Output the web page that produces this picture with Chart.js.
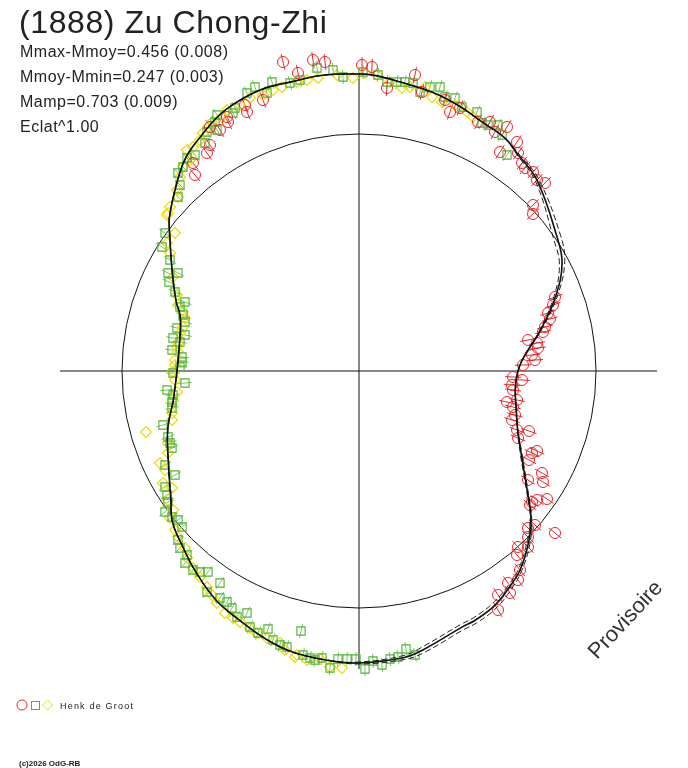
<!DOCTYPE html>
<html>
<head>
<meta charset="utf-8">
<script src="https://cdn.jsdelivr.net/npm/chart.js@4/dist/chart.umd.min.js"></script>
<style>
  html, body { margin: 0; padding: 0; background: #fff; }
  #wrap { width: 688px; height: 768px; position: relative; }
</style>
</head>
<body>
<div id="wrap"><canvas id="chart"></canvas></div>
<script>
// ---------------------------------------------------------------------------
//  Data (polar plot, units = plot radius units, centre at 0,0)
// ---------------------------------------------------------------------------

// fitted curve: angle (deg) and radius
const curveAngle   = [-171, -163, -154, -146, -141, -135, -129, -122, -116, -109, -103, -96, -90, -81, -77, -68, -65, -60, -55, -51, -46, -41, -35, -27, -17, 0, 13, 21, 28, 34, 47, 54, 58, 64, 69, 75, 82, 87, 90, 97, 103, 109, 115, 119, 124, 129, 134, 141, 144, 151, 159, 163, 170, 180];
const curveRadius  = [188, 200, 212, 227, 240, 249, 259, 270, 276, 284, 289, 291, 292, 290, 286, 276, 275, 271, 263, 256, 243, 228, 205, 182, 165, 159, 187, 211, 230, 239, 261, 269, 275, 278, 283, 288, 292, 296, 297, 298, 297, 298, 295, 291, 283, 275, 262, 244, 234, 214, 196, 187, 182, 182];
const curveRadiusHi = [188, 200, 212, 227, 240, 249, 259, 270, 276, 284, 289, 291, 293, 292, 289, 279, 278, 274, 266, 258, 245, 229, 206, 183, 165, 159, 188, 213, 233, 243, 263, 270, 275, 278, 283, 288, 292, 296, 297, 298, 297, 298, 295, 291, 283, 275, 262, 244, 234, 214, 196, 187, 182, 182];
const curveRadiusLo = [188, 200, 212, 227, 240, 249, 259, 270, 276, 284, 289, 291, 291, 288, 283, 273, 272, 268, 261, 254, 241, 227, 204, 181, 165, 159, 186, 209, 227, 235, 259, 268, 275, 278, 283, 288, 292, 296, 297, 298, 297, 298, 295, 291, 283, 275, 262, 244, 234, 214, 196, 187, 182, 182];

const refCircleRadius = 237;

// observations (x, y)
const circleX = [-76, -61, -46, -34, 3, 13, -96, -114, -112, -131, -149, -132, -149, -152, -166, -164, -139,
  28, 56, 63, 86, 91, 101, 119, 131, 148, 136, 158, 141, 159, 163, 166, 174, 178, 186, 174, 174,
  196, 194, 189, 191, 186, 184, 169, 178, 179, 173, 176, 164, 154, 163, 153, 154, 148, 158, 154, 156, 153,
  158, 170, 159, 178, 173, 170, 183, 184, 169, 173, 178, 188, 171, 176, 169, 196, 169, 169, 159, 158,
  161, 159, 149, 151, 139, 139];
const circleY = [309, 298, 311, 309, 306, 304, 271, 266, 259, 249, 244, 254, 226, 218, 208, 196, 241,
  283, 296, 279, 271, 259, 263, 249, 249, 244, 239, 229, 219, 218, 208, 203, 199, 191, 188, 166, 157,
  74, 66, 58, 52, 44, 39, 31, 28, 23, 16, 11, 6, -6, -9, -14, -19, -31, -29, -36, -44, -49,
  -59, -60, -67, -80, -82, -89, -102, -111, -109, -131, -129, -128, -134, -154, -157, -162, -166, -176, -176, -184,
  -199, -209, -212, -222, -224, -239];

const squareX = [-87, -69, -59, -42, -26, -16, 4, -104, -112, -92, -124, -126, -142, -144, -142, -152, -154, -164, -172, -176, -181, -179, -181,
  19, 28, 38, 46, 54, 71, 81, 61, 86, 96, 103, 118, 123, 129, 139, 143, 148,
  -194, -197, -189, -191, -181, -190, -184, -174, -179, -176, -174, -182, -174, -186, -179, -187, -177, -177, -179, -186, -174, -192, -186, -187, -187, -196, -191, -189,
  -187, -194, -184, -194, -192, -191, -194, -187, -181, -177, -181, -179, -172, -174, -166, -151, -159, -139, -152, -139, -132, -127, -122, -112, -109, -91, -101, -86, -79, -72, -58, -56, -49, -44,
  -37, -29, -21, -12, -3, 6, 14, 23, 31, 39, 47, 56];
const squareY = [289, 288, 291, 303, 301, 294, 299, 284, 278, 278, 263, 258, 256, 249, 241, 239, 228, 216, 213, 204, 198, 186, 174,
  296, 289, 289, 289, 288, 284, 284, 279, 274, 273, 264, 259, 248, 246, 246, 236, 216,
  138, 124, 111, 98, 98, 89, 79, 69, 64, 56, 49, 43, 36, 33, 29, 21, 14, 9, 4, -2, -12, -19, -24, -31, -37, -54, -66, -72,
  -77, -94, -104, -116, -124, -131, -141, -146, -149, -156, -169, -177, -184, -192, -199, -201, -201, -212, -221, -227, -231, -237, -246, -242, -256, -258, -262, -269, -274, -276, -260, -284, -287, -289,
  -287, -297, -288, -288, -288, -298, -290, -294, -288, -286, -278, -284];

const diamondX = [-22, 18, -41, -52, -62, -77, -86, -96, -109, -119, -132, -137, -147, -151, -156, -159, -166, -172, -169, -176, -179, -182, -181, -191,
  -6, 6, 31, 43, 51, 66, 73, 83, 96, 108, 114,
  -189, -192, -184, -192, -189, -186, -182, -181, -176, -174, -176, -179, -181, -182, -181, -184, -184, -186, -184, -182, -186, -187, -187, -213, -191,
  -191, -199, -194, -196, -187, -191, -186, -189, -184, -181, -174, -172, -166, -159, -152, -147, -142, -134, -126, -119, -109, -102, -92, -79, -74, -64, -62, -52, -39, -29, -17];
const diamondY = [296, 296, 293, 291, 289, 284, 281, 276, 273, 266, 261, 254, 249, 244, 238, 231, 224, 221, 211, 204, 194, 181, 174, 158,
  293, 298, 289, 283, 284, 284, 274, 269, 266, 259, 254,
  164, 156, 138, 128, 118, 94, 76, 66, 59, 53, 44, 38, 28, 24, 19, 11, 6, -1, -9, -21, -29, -42, -49, -61, -72,
  -82, -92, -99, -112, -117, -129, -139, -147, -159, -166, -177, -187, -197, -206, -216, -224, -232, -242, -247, -251, -257, -262, -267, -272, -279, -286, -284, -289, -288, -296, -297];

// text
const titleText  = '(1888) Zu Chong-Zhi';
const infoLines  = ['Mmax-Mmoy=0.456 (0.008)', 'Mmoy-Mmin=0.247 (0.003)', 'Mamp=0.703 (0.009)', 'Eclat^1.00'];
const observer   = 'Henk de Groot';
const stampText  = 'Provisoire';
const copyText   = '(c)2026 OdG-RB';

const RED    = '#e8262b';
const GREEN  = '#4fb23a';
const YELLOW = '#f0dc00';
const FONT   = '"Liberation Sans", Arial, sans-serif';

// ---------------------------------------------------------------------------
//  Helpers
// ---------------------------------------------------------------------------

function polarLine(radii) {
  const pts = curveAngle.map((a, i) => ({
    x: radii[i] * Math.cos(a * Math.PI / 180),
    y: radii[i] * Math.sin(a * Math.PI / 180),
  }));
  pts.push({ ...pts[0] });
  return pts;
}

const toPoints = (xs, ys) => xs.map((x, i) => ({ x, y: ys[i] }));

// axes cross, reference circle, radial error bars
const backdrop = {
  id: 'backdrop',
  beforeDatasetsDraw(chart) {
    const { ctx, scales: { x, y } } = chart;
    const cx = x.getPixelForValue(0), cy = y.getPixelForValue(0);
    ctx.save();
    ctx.strokeStyle = '#111';
    ctx.lineWidth = 1;
    ctx.beginPath();
    ctx.moveTo(x.getPixelForValue(-299), cy); ctx.lineTo(x.getPixelForValue(298), cy);
    ctx.moveTo(cx, y.getPixelForValue(298)); ctx.lineTo(cx, y.getPixelForValue(-298));
    ctx.stroke();

    const rPx = x.getPixelForValue(refCircleRadius) - cx;
    ctx.beginPath();
    ctx.arc(cx, cy, rPx, 0, Math.PI * 2);
    ctx.stroke();

    const bars = (xs, ys, len, color) => {
      ctx.strokeStyle = color;
      ctx.beginPath();
      xs.forEach((vx, i) => {
        const vy = ys[i];
        const a = Math.atan2(vy, vx);
        const dx = Math.cos(a) * len, dy = Math.sin(a) * len;
        ctx.moveTo(x.getPixelForValue(vx - dx), y.getPixelForValue(vy - dy));
        ctx.lineTo(x.getPixelForValue(vx + dx), y.getPixelForValue(vy + dy));
      });
      ctx.stroke();
    };
    bars(squareX, squareY, 7, '#78c75a');
    bars(circleX, circleY, 8, RED);
    ctx.restore();
  },
};

// labels drawn on the canvas
const labels = {
  id: 'labels',
  afterDraw(chart) {
    const { ctx } = chart;
    ctx.save();
    ctx.fillStyle = '#222';
    ctx.textBaseline = 'alphabetic';
    ctx.font = `32px ${FONT}`;
    ctx.letterSpacing = '0.6px';
    ctx.fillText(titleText, 19, 33);
    ctx.font = `16px ${FONT}`;
    ctx.letterSpacing = '0.5px';
    infoLines.forEach((t, i) => ctx.fillText(t, 20, 57 + i * 25));

    // legend
    ctx.lineWidth = 1;
    ctx.strokeStyle = RED;
    ctx.beginPath(); ctx.arc(22, 705, 5, 0, Math.PI * 2); ctx.stroke();
    ctx.strokeStyle = GREEN;
    ctx.strokeRect(31.5, 701.5, 8, 8);
    ctx.strokeStyle = YELLOW;
    ctx.beginPath();
    ctx.moveTo(47.5, 700); ctx.lineTo(52.5, 705); ctx.lineTo(47.5, 710); ctx.lineTo(42.5, 705); ctx.closePath();
    ctx.stroke();
    ctx.fillStyle = '#222';
    ctx.font = `9px ${FONT}`;
    ctx.letterSpacing = '1.2px';
    ctx.fillText(observer, 60, 709);
    ctx.letterSpacing = '0px';
    ctx.font = `bold 8px ${FONT}`;
    ctx.fillText(copyText, 19, 766);

    // watermark
    ctx.fillStyle = '#333';
    ctx.font = `22px ${FONT}`;
    ctx.translate(597, 660);
    ctx.rotate(-47 * Math.PI / 180);
    ctx.fillText(stampText, 0, 0);
    ctx.restore();
  },
};

// ---------------------------------------------------------------------------
//  Chart
// ---------------------------------------------------------------------------

new Chart(document.getElementById('chart'), {
  type: 'scatter',
  data: {
    datasets: [
      { label: 'fit', data: polarLine(curveRadius), showLine: true, tension: 0.4,
        borderColor: '#111', borderWidth: 1.6, pointRadius: 0, order: 0 },
      { label: 'fit+', data: polarLine(curveRadiusHi), showLine: true, tension: 0.4,
        borderColor: '#222', borderWidth: 1, borderDash: [6, 3], pointRadius: 0, order: 1 },
      { label: 'fit-', data: polarLine(curveRadiusLo), showLine: true, tension: 0.4,
        borderColor: '#222', borderWidth: 1, borderDash: [6, 3], pointRadius: 0, order: 1 },
      { label: 'circles', data: toPoints(circleX, circleY), pointStyle: 'circle', pointRadius: 5.5,
        borderColor: RED, backgroundColor: 'rgba(0,0,0,0)', borderWidth: 1, order: 2 },
      { label: 'squares', data: toPoints(squareX, squareY), pointStyle: 'rect', pointRadius: 5.8,
        borderColor: GREEN, backgroundColor: 'rgba(0,0,0,0)', borderWidth: 1.1, order: 3 },
      { label: 'diamonds', data: toPoints(diamondX, diamondY), pointStyle: 'rectRot', pointRadius: 5.5,
        borderColor: YELLOW, backgroundColor: 'rgba(0,0,0,0)', borderWidth: 1.2, order: 4 },
    ],
  },
  options: {
    responsive: true,
    maintainAspectRatio: false,
    animation: false,
    events: [],
    layout: { padding: 0, autoPadding: false },
    plugins: { legend: { display: false }, tooltip: { enabled: false } },
    scales: {
      x: { type: 'linear', min: -359, max: 329, display: false },
      y: { type: 'linear', min: -397, max: 371, display: false },
    },
  },
  plugins: [backdrop, labels],
});
</script>
</body>
</html>
